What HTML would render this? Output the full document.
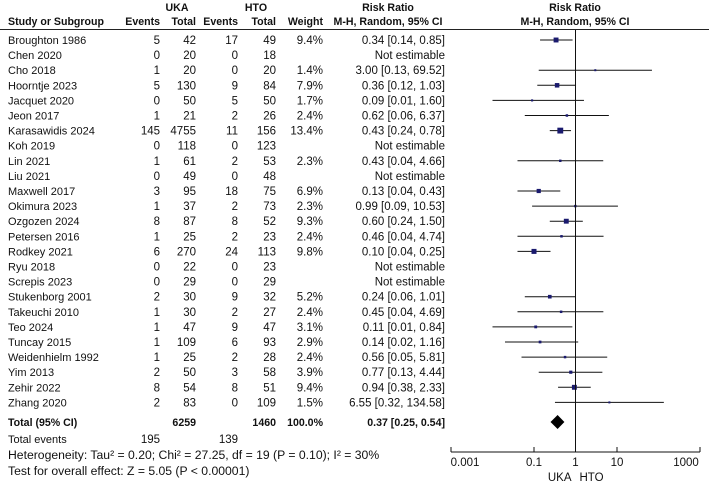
<!DOCTYPE html>
<html><head><meta charset="utf-8"><style>
body{margin:0;background:#fff;}
svg text{font-family:"Liberation Sans",Arial,sans-serif;font-size:11.5px;fill:#111;}
.b{font-weight:bold;font-size:10.6px;}
.n{font-size:11px;}
.f{font-size:12.2px;}
</style></head><body>
<svg id="c" width="709" height="484" xmlns="http://www.w3.org/2000/svg">
<g id="hdr">
<text x="177" y="11" text-anchor="middle" class="b">UKA</text>
<text x="256" y="11" text-anchor="middle" class="b">HTO</text>
<text x="8" y="25" class="b">Study or Subgroup</text>
<text x="160" y="25" text-anchor="end" class="b">Events</text>
<text x="196" y="25" text-anchor="end" class="b">Total</text>
<text x="238" y="25" text-anchor="end" class="b">Events</text>
<text x="276" y="25" text-anchor="end" class="b">Total</text>
<text x="323" y="25" text-anchor="end" class="b">Weight</text>
<text x="388" y="11" text-anchor="middle" class="b">Risk Ratio</text>
<text x="388" y="25" text-anchor="middle" class="b">M-H, Random, 95% CI</text>
<text x="575" y="11" text-anchor="middle" class="b">Risk Ratio</text>
<text x="575" y="25" text-anchor="middle" class="b">M-H, Random, 95% CI</text>
<line x1="0" y1="29.5" x2="709" y2="29.5" stroke="#222" stroke-width="1"/>
</g>
<g id="rows"></g>
</svg>
<script>
const studies=["Broughton 1986","Chen 2020","Cho 2018","Hoorntje 2023","Jacquet 2020","Jeon 2017","Karasawidis 2024","Koh 2019","Lin 2021","Liu 2021","Maxwell 2017","Okimura 2023","Ozgozen 2024","Petersen 2016","Rodkey 2021","Ryu 2018","Screpis 2023","Stukenborg 2001","Takeuchi 2010","Teo 2024","Tuncay 2015","Weidenhielm 1992","Yim 2013","Zehir 2022","Zhang 2020"];
const ukaEvents=[5,0,1,5,0,1,145,0,1,0,3,1,8,1,6,0,0,2,1,1,1,1,2,8,2];
const ukaTotal=[42,20,20,130,50,21,4755,118,61,49,95,37,87,25,270,22,29,30,30,47,109,25,50,54,83];
const htoEvents=[17,0,0,9,5,2,11,0,2,0,18,2,8,2,24,0,0,9,2,9,6,2,3,8,0];
const htoTotal=[49,18,20,84,50,26,156,123,53,48,75,73,52,23,113,23,29,32,27,47,93,28,58,51,109];
const weights=[9.4,null,1.4,7.9,1.7,2.4,13.4,null,2.3,null,6.9,2.3,9.3,2.4,9.8,null,null,5.2,2.4,3.1,2.9,2.4,3.9,9.4,1.5];
const rr=[0.34,null,3.00,0.36,0.09,0.62,0.43,null,0.43,null,0.13,0.99,0.60,0.46,0.10,null,null,0.24,0.45,0.11,0.14,0.56,0.77,0.94,6.55];
const lo=[0.14,null,0.13,0.12,0.01,0.06,0.24,null,0.04,null,0.04,0.09,0.24,0.04,0.04,null,null,0.06,0.04,0.01,0.02,0.05,0.13,0.38,0.32];
const hi=[0.85,null,69.52,1.03,1.60,6.37,0.78,null,4.66,null,0.43,10.53,1.50,4.74,0.25,null,null,1.01,4.69,0.84,1.16,5.81,4.44,2.33,134.58];
const pooled=[0.37,0.25,0.54];
const axisTicks=[0.001,0.1,1,10,1000];
const axisLabels=["0.001","0.1","1","10","1000"];
const NS="http://www.w3.org/2000/svg";
const g=document.getElementById('rows');
const X=v=>575.5+41.5*Math.log10(v);
const Y=i=>40+i*15.1;
function el(t,a,txt){const e=document.createElementNS(NS,t);for(const k in a)e.setAttribute(k,a[k]);if(txt!==undefined)e.textContent=txt;g.appendChild(e);return e;}
const f2=v=>v.toFixed(2);
studies.forEach((s,i)=>{const y=Y(i)+4;
let e=el('text',{x:8,y,class:'n'},s);


el('text',{x:160,y,'text-anchor':'end'},ukaEvents[i]);
el('text',{x:196,y,'text-anchor':'end'},ukaTotal[i]);
el('text',{x:238,y,'text-anchor':'end'},htoEvents[i]);
el('text',{x:276,y,'text-anchor':'end'},htoTotal[i]);
if(weights[i]!=null)el('text',{x:323,y,'text-anchor':'end'},weights[i].toFixed(1)+'%');
el('text',{x:445,y,'text-anchor':'end'},rr[i]==null?'Not estimable':f2(rr[i])+' ['+f2(lo[i])+', '+f2(hi[i])+']');
if(rr[i]!=null){const yc=Y(i);
let l=el('line',{x1:X(lo[i]),x2:X(hi[i]),y1:yc,y2:yc,stroke:'#111','stroke-width':1});


const sz=Math.max(2,Math.sqrt(weights[i])*1.6);
let r=el('rect',{x:X(rr[i])-sz/2,y:yc-sz/2,width:sz,height:sz,fill:'#1a1a6e'});

}
});
const ty=422;
el('text',{x:8,y:ty+4,class:'b'},'Total (95% CI)');
el('text',{x:196,y:ty+4,'text-anchor':'end',class:'b'},'6259');
el('text',{x:276,y:ty+4,'text-anchor':'end',class:'b'},'1460');
el('text',{x:323,y:ty+4,'text-anchor':'end',class:'b'},'100.0%');
el('text',{x:445,y:ty+4,'text-anchor':'end',class:'b'},f2(pooled[0])+' ['+f2(pooled[1])+', '+f2(pooled[2])+']');
let d=el('polygon',{points:`${X(pooled[1])},${ty} ${X(pooled[0])},${ty-7} ${X(pooled[2])},${ty} ${X(pooled[0])},${ty+7}`,fill:'#000'});


el('text',{x:8,y:443,class:'n'},'Total events');
el('text',{x:160,y:443,'text-anchor':'end'},'195');
el('text',{x:238,y:443,'text-anchor':'end'},'139');
el('text',{x:8,y:459,class:'f'},'Heterogeneity: Tau\u00b2 = 0.20; Chi\u00b2 = 27.25, df = 19 (P = 0.10); I\u00b2 = 30%');
el('text',{x:8,y:475,class:'f'},'Test for overall effect: Z = 5.05 (P < 0.00001)');
const ay=452;
let vl=el('line',{x1:X(1),x2:X(1),y1:30,y2:ay,stroke:'#111','stroke-width':1});


let ax=el('line',{x1:X(0.001),x2:X(1000),y1:ay,y2:ay,stroke:'#111','stroke-width':1});


axisTicks.forEach((t,k)=>{el('line',{x1:X(t),x2:X(t),y1:ay-5,y2:ay,stroke:'#111'});
let tl=el('text',{x:X(t)+(k==0?14:k==axisTicks.length-1?-14:0),y:ay+14,'text-anchor':'middle'},axisLabels[k]);

});
el('text',{x:X(1)-4,y:481,'text-anchor':'end'},'UKA');
el('text',{x:X(1)+4,y:481},'HTO');
</script>
</body></html>
